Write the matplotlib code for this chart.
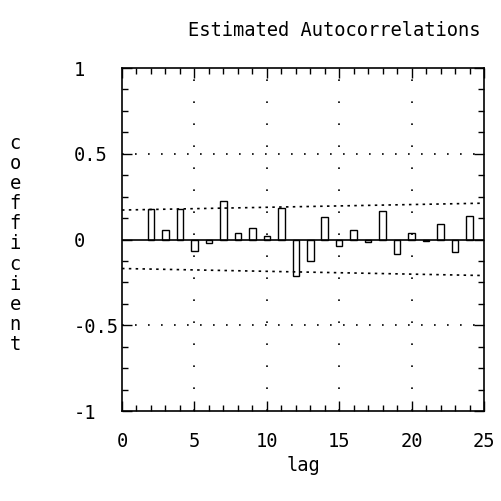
import numpy as np
import matplotlib.pyplot as plt

lags = [2, 3, 4, 5, 6, 7, 8, 9, 10, 11, 12, 13, 14, 15, 16, 17, 18, 19, 20, 21, 22, 23, 24]
acf = [0.18, 0.055, 0.18, -0.065, -0.02, 0.225, 0.04, 0.067, 0.02, 0.186, -0.21,
       -0.127, 0.133, -0.04, 0.055, -0.015, 0.169, -0.082, 0.04, -0.01, 0.088, -0.07, 0.138]
band_x = [0, 25]
band_upper = [0.172, 0.212]
band_lower = [-0.169, -0.21]

plt.rcParams['font.family'] = ['DejaVu Sans Mono']
fs = 13.5

fig = plt.figure(figsize=(5.01, 5.01), dpi=100)
ax = fig.add_axes([0.2435, 0.1796, 0.7226, 0.6846])

# hollow bars
ax.bar(lags, acf, width=0.45, fill=False, edgecolor='black', linewidth=1.0)
ax.axhline(0, color='black', linewidth=1.2)

# dotted grid
for y in [0.5, -0.5]:
    ax.axhline(y, color='black', linewidth=1.2, linestyle=(0, (1, 6.8)))
for x in [5, 10, 15, 20]:
    ax.axvline(x, color='black', linewidth=1.2, linestyle=(0, (1, 12.2)))

# confidence bands
ax.plot(band_x, band_upper, color='black', linewidth=1.2, linestyle=(0, (1.5, 2.6)))
ax.plot(band_x, band_lower, color='black', linewidth=1.2, linestyle=(0, (1.5, 2.6)))

ax.set_xlim(0, 25)
ax.set_ylim(-1, 1)
ax.set_xticks([0, 5, 10, 15, 20, 25])
ax.set_xticks(np.arange(0, 26, 1), minor=True)
ax.set_yticks([-1, -0.5, 0, 0.5, 1])
ax.set_yticklabels(['-1', '-0.5', '0', '0.5', '1'], ha='left')
ax.set_yticks(np.arange(-1, 1.01, 0.125), minor=True)
ax.tick_params(which='both', direction='in', top=True, right=True, labelsize=fs, width=1)
ax.tick_params(which='major', length=7)
ax.tick_params(which='minor', length=4)
ax.tick_params(axis='y', which='major', pad=35)
ax.tick_params(axis='x', which='major', pad=15)
for s in ax.spines.values():
    s.set_linewidth(1.2)

ax.set_xlabel('lag', fontsize=fs, labelpad=4)
fig.text(0.03, 0.513, '\n'.join('coefficient'), fontsize=fs, ha='center', va='center',
         linespacing=1.07)
fig.text(0.667, 0.94, 'Estimated Autocorrelations', fontsize=fs, ha='center', va='center')

fig.savefig('out.png', dpi=100)
